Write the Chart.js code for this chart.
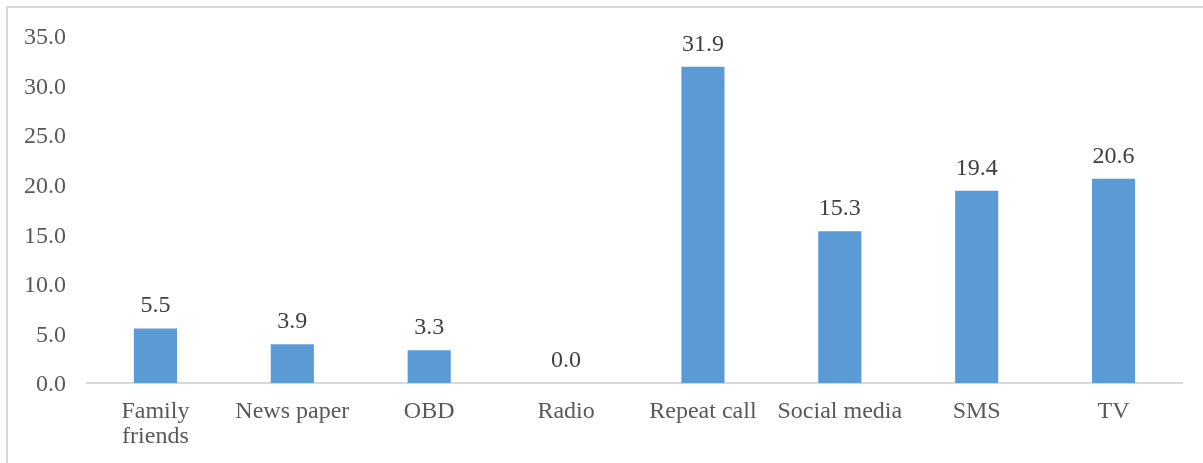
<!DOCTYPE html>
<html lang="en">
<head>
    <meta charset="UTF-8">
    <title>Source of information</title>
    <script src="https://cdn.jsdelivr.net/npm/chart.js"></script>
    <style>
        html, body {
            margin: 0;
            padding: 0;
            background: #ffffff;
            overflow: hidden;
        }
        #wrap {
            width: 1203px;
            height: 463px;
            position: relative;
        }
    </style>
</head>
<body>
    <div id="wrap">
        <canvas id="chart" width="1203" height="463"></canvas>
    </div>

    <script>
        // data
        const categories = [['Family', 'friends'], 'News paper', 'OBD', 'Radio', 'Repeat call', 'Social media', 'SMS', 'TV'];
        const percentages = [5.5, 3.9, 3.3, 0.0, 31.9, 15.3, 19.4, 20.6];
        const yTicks = [0, 5, 10, 15, 20, 25, 30, 35];

        const serif = "'Liberation Serif', 'Times New Roman', serif";

        // outer frame like the original chart area box
        const framePlugin = {
            id: 'frame',
            beforeDraw(chart) {
                const ctx = chart.ctx;
                ctx.save();
                ctx.strokeStyle = '#d9d9d9';
                ctx.lineWidth = 2;
                ctx.beginPath();
                ctx.moveTo(7, 480);
                ctx.lineTo(7, 7);
                ctx.lineTo(1210, 7);
                ctx.stroke();
                ctx.restore();
            }
        };

        // value labels above each bar
        const valueLabels = {
            id: 'valueLabels',
            afterDatasetsDraw(chart) {
                const ctx = chart.ctx;
                const meta = chart.getDatasetMeta(0);
                ctx.save();
                ctx.font = '24px ' + serif;
                ctx.fillStyle = '#404040';
                ctx.textAlign = 'center';
                ctx.textBaseline = 'alphabetic';
                meta.data.forEach((bar, i) => {
                    ctx.fillText(percentages[i].toFixed(1), bar.x, bar.y - 16);
                });
                ctx.restore();
            }
        };

        new Chart(document.getElementById('chart'), {
            type: 'bar',
            data: {
                labels: categories,
                datasets: [{
                    data: percentages,
                    backgroundColor: '#5b9bd5',
                    borderWidth: 0,
                    barPercentage: 0.315,
                    categoryPercentage: 1.0
                }]
            },
            options: {
                responsive: false,
                animation: false,
                layout: {
                    padding: { left: 0, right: 21, top: 36, bottom: 0 }
                },
                plugins: {
                    legend: { display: false },
                    title: { display: false },
                    tooltip: { enabled: false }
                },
                scales: {
                    x: {
                        grid: { display: false, drawTicks: false },
                        border: { display: true, color: '#d9d9d9', width: 2 },
                        ticks: {
                            color: '#595959',
                            font: { family: serif, size: 24, lineHeight: 1.05 },
                            padding: 16,
                            maxRotation: 0,
                            autoSkip: false
                        },
                        afterFit(scale) { scale.height = 80; }
                    },
                    y: {
                        min: 0,
                        max: 35,
                        afterBuildTicks(scale) {
                            scale.ticks = yTicks.map(v => ({ value: v }));
                        },
                        grid: { display: false, drawTicks: false },
                        border: { display: false },
                        ticks: {
                            color: '#595959',
                            font: { family: serif, size: 24 },
                            padding: 21,
                            labelOffset: 2,
                            callback: v => Number(v).toFixed(1)
                        },
                        afterFit(scale) { scale.width = 87; }
                    }
                }
            },
            plugins: [framePlugin, valueLabels]
        });
    </script>
</body>
</html>
